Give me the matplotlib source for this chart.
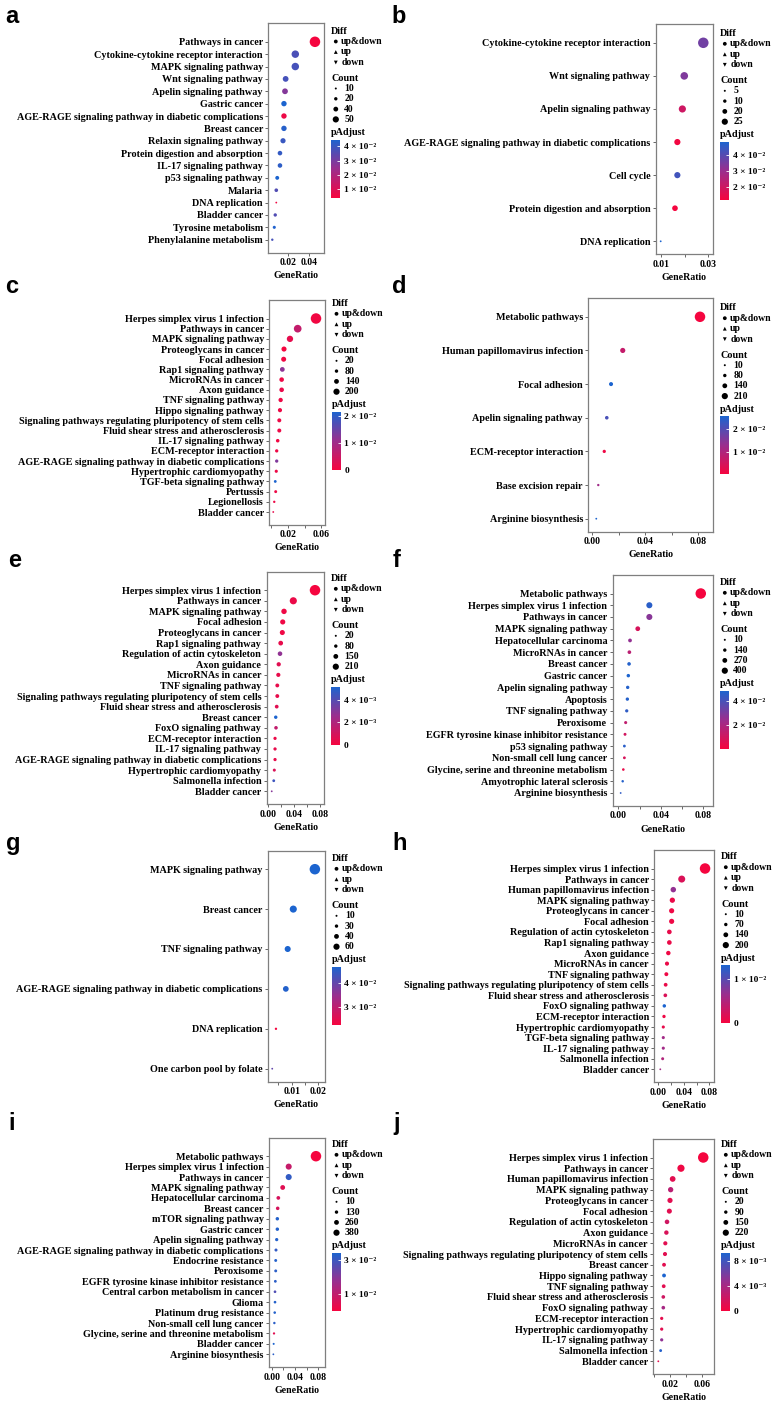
import numpy as np
import matplotlib.pyplot as plt
from matplotlib.colors import LinearSegmentedColormap, Normalize
from matplotlib.cm import ScalarMappable

W, H, DPI = 782, 1405, 100
SERIF = ["Liberation Serif", "DejaVu Serif"]
SANS = ["Liberation Sans", "DejaVu Sans"]

# ---------------- data ----------------
a_terms = ["Pathways in cancer", "Cytokine-cytokine receptor interaction", "MAPK signaling pathway",
           "Wnt signaling pathway", "Apelin signaling pathway", "Gastric cancer",
           "AGE-RAGE signaling pathway in diabetic complications", "Breast cancer",
           "Relaxin signaling pathway", "Protein digestion and absorption", "IL-17 signaling pathway",
           "p53 signaling pathway", "Malaria", "DNA replication", "Bladder cancer",
           "Tyrosine metabolism", "Phenylalanine metabolism"]
a_ratio = [0.0454, 0.0267, 0.0267, 0.0175, 0.0169, 0.0159, 0.0159, 0.0159, 0.0150, 0.0121,
           0.0121, 0.0095, 0.0086, 0.0086, 0.0076, 0.0067, 0.0048]
a_count = [50, 29, 29, 19, 19, 17, 17, 17, 16, 13, 13, 10, 9, 4, 8, 7, 5]
a_padj = [0.0041, 0.037, 0.038, 0.038, 0.028, 0.0447, 0.006, 0.043, 0.040, 0.041, 0.042,
          0.0447, 0.036, 0.005, 0.036, 0.044, 0.038]

b_terms = ["Cytokine-cytokine receptor interaction", "Wnt signaling pathway", "Apelin signaling pathway",
           "AGE-RAGE signaling pathway in diabetic complications", "Cell cycle",
           "Protein digestion and absorption", "DNA replication"]
b_ratio = [0.0279, 0.0199, 0.0191, 0.0170, 0.0170, 0.0160, 0.0100]
b_count = [25, 18, 17, 15, 15, 14, 9]
b_padj = [0.036, 0.034, 0.020, 0.0125, 0.043, 0.0119, 0.0483]

c_terms = ["Herpes simplex virus 1 infection", "Pathways in cancer", "MAPK signaling pathway",
           "Proteoglycans in cancer", "Focal adhesion", "Rap1 signaling pathway", "MicroRNAs in cancer",
           "Axon guidance", "TNF signaling pathway", "Hippo signaling pathway",
           "Signaling pathways regulating pluripotency of stem cells",
           "Fluid shear stress and atherosclerosis", "IL-17 signaling pathway", "ECM-receptor interaction",
           "AGE-RAGE signaling pathway in diabetic complications", "Hypertrophic cardiomyopathy",
           "TGF-beta signaling pathway", "Pertussis", "Legionellosis", "Bladder cancer"]
c_ratio = [0.0536, 0.0318, 0.0226, 0.0155, 0.0151, 0.0135, 0.0127, 0.0127, 0.0115, 0.0107,
           0.0099, 0.0099, 0.0080, 0.0068, 0.0068, 0.0063, 0.0051, 0.0056, 0.0039, 0.0027]
c_count = [210, 125, 89, 61, 59, 53, 50, 50, 45, 42, 39, 39, 31, 27, 27, 25, 20, 22, 15, 11]
c_padj = [0.0005, 0.006, 0.002, 0.0, 0.0005, 0.012, 0.001, 0.0015, 0.001, 0.001, 0.001, 0.001,
          0.0005, 0.001, 0.013, 0.001, 0.0215, 0.001, 0.001, 0.002]

d_terms = ["Metabolic pathways", "Human papillomavirus infection", "Focal adhesion",
           "Apelin signaling pathway", "ECM-receptor interaction", "Base excision repair",
           "Arginine biosynthesis"]
d_ratio = [0.0812, 0.0231, 0.0143, 0.0111, 0.0092, 0.0047, 0.0032]
d_count = [210, 60, 37, 29, 24, 12, 8]
d_padj = [0.0, 0.007, 0.0257, 0.021, 0.001, 0.012, 0.0257]

e_terms = ["Herpes simplex virus 1 infection", "Pathways in cancer", "MAPK signaling pathway",
           "Focal adhesion", "Proteoglycans in cancer", "Rap1 signaling pathway",
           "Regulation of actin cytoskeleton", "Axon guidance", "MicroRNAs in cancer",
           "TNF signaling pathway", "Signaling pathways regulating pluripotency of stem cells",
           "Fluid shear stress and atherosclerosis", "Breast cancer", "FoxO signaling pathway",
           "ECM-receptor interaction", "IL-17 signaling pathway",
           "AGE-RAGE signaling pathway in diabetic complications", "Hypertrophic cardiomyopathy",
           "Salmonella infection", "Bladder cancer"]
e_ratio = [0.0723, 0.0387, 0.0243, 0.0223, 0.0217, 0.0192, 0.0181, 0.0161, 0.0155, 0.0139,
           0.0139, 0.0130, 0.0115, 0.0119, 0.0104, 0.0104, 0.0104, 0.0093, 0.0084, 0.0053]
e_count = [210, 112, 71, 65, 63, 56, 53, 47, 45, 40, 40, 38, 33, 35, 30, 30, 30, 27, 24, 15]
e_padj = [0.0, 0.0003, 0.0002, 0.0002, 0.0002, 0.0004, 0.0028, 0.0006, 0.0004, 0.0004, 0.0004,
          0.0006, 0.0052, 0.0015, 0.0003, 0.0004, 0.0004, 0.0008, 0.0045, 0.003]

f_terms = ["Metabolic pathways", "Herpes simplex virus 1 infection", "Pathways in cancer",
           "MAPK signaling pathway", "Hepatocellular carcinoma", "MicroRNAs in cancer", "Breast cancer",
           "Gastric cancer", "Apelin signaling pathway", "Apoptosis", "TNF signaling pathway",
           "Peroxisome", "EGFR tyrosine kinase inhibitor resistance", "p53 signaling pathway",
           "Non-small cell lung cancer", "Glycine, serine and threonine metabolism",
           "Amyotrophic lateral sclerosis", "Arginine biosynthesis"]
f_ratio = [0.0776, 0.0292, 0.0292, 0.0183, 0.0110, 0.0104, 0.0101, 0.0094, 0.0088, 0.0085,
           0.0079, 0.0069, 0.0063, 0.0057, 0.0057, 0.0047, 0.0041, 0.0022]
f_count = [400, 151, 151, 94, 57, 54, 52, 48, 45, 44, 41, 36, 32, 29, 29, 24, 21, 11]
f_padj = [0.0006, 0.046, 0.028, 0.009, 0.026, 0.016, 0.047, 0.0486, 0.047, 0.047, 0.045, 0.015,
          0.010, 0.046, 0.009, 0.004, 0.047, 0.045]

g_terms = ["MAPK signaling pathway", "Breast cancer", "TNF signaling pathway",
           "AGE-RAGE signaling pathway in diabetic complications", "DNA replication",
           "One carbon pool by folate"]
g_ratio = [0.0187, 0.0106, 0.0085, 0.0078, 0.0041, 0.0027]
g_count = [62, 35, 28, 26, 10, 9]
g_padj = [0.0467, 0.0467, 0.0467, 0.046, 0.0228, 0.040]

h_terms = ["Herpes simplex virus 1 infection", "Pathways in cancer", "Human papillomavirus infection",
           "MAPK signaling pathway", "Proteoglycans in cancer", "Focal adhesion",
           "Regulation of actin cytoskeleton", "Rap1 signaling pathway", "Axon guidance",
           "MicroRNAs in cancer", "TNF signaling pathway",
           "Signaling pathways regulating pluripotency of stem cells",
           "Fluid shear stress and atherosclerosis", "FoxO signaling pathway", "ECM-receptor interaction",
           "Hypertrophic cardiomyopathy", "TGF-beta signaling pathway", "IL-17 signaling pathway",
           "Salmonella infection", "Bladder cancer"]
h_ratio = [0.0733, 0.0367, 0.0235, 0.0220, 0.0209, 0.0209, 0.0173, 0.0173, 0.0157, 0.0136,
           0.0126, 0.0115, 0.0110, 0.0094, 0.0089, 0.0078, 0.0078, 0.0078, 0.0068, 0.0031]
h_count = [200, 100, 64, 60, 57, 57, 47, 47, 43, 37, 34, 31, 30, 26, 24, 21, 21, 21, 19, 8]
h_padj = [0.0, 0.002, 0.007, 0.0008, 0.0005, 0.0005, 0.001, 0.0008, 0.0005, 0.0008, 0.0005,
          0.0008, 0.002, 0.0132, 0.0005, 0.001, 0.006, 0.006, 0.005, 0.006]

i_terms = ["Metabolic pathways", "Herpes simplex virus 1 infection", "Pathways in cancer",
           "MAPK signaling pathway", "Hepatocellular carcinoma", "Breast cancer", "mTOR signaling pathway",
           "Gastric cancer", "Apelin signaling pathway",
           "AGE-RAGE signaling pathway in diabetic complications", "Endocrine resistance", "Peroxisome",
           "EGFR tyrosine kinase inhibitor resistance", "Central carbon metabolism in cancer", "Glioma",
           "Platinum drug resistance", "Non-small cell lung cancer",
           "Glycine, serine and threonine metabolism", "Bladder cancer", "Arginine biosynthesis"]
i_ratio = [0.0760, 0.0292, 0.0292, 0.0189, 0.0114, 0.0103, 0.0097, 0.0097, 0.0086, 0.0074,
           0.0069, 0.0069, 0.0063, 0.0057, 0.0057, 0.0052, 0.0046, 0.0040, 0.0034, 0.0029]
i_count = [390, 150, 150, 97, 59, 53, 50, 50, 44, 38, 35, 35, 32, 29, 29, 27, 24, 21, 17, 15]
i_padj = [0.0, 0.009, 0.031, 0.004, 0.006, 0.006, 0.033, 0.033, 0.033, 0.031, 0.033, 0.032,
          0.032, 0.027, 0.033, 0.033, 0.032, 0.004, 0.034, 0.032]

j_terms = ["Herpes simplex virus 1 infection", "Pathways in cancer", "Human papillomavirus infection",
           "MAPK signaling pathway", "Proteoglycans in cancer", "Focal adhesion",
           "Regulation of actin cytoskeleton", "Axon guidance", "MicroRNAs in cancer",
           "Signaling pathways regulating pluripotency of stem cells", "Breast cancer",
           "Hippo signaling pathway", "TNF signaling pathway", "Fluid shear stress and atherosclerosis",
           "FoxO signaling pathway", "ECM-receptor interaction", "Hypertrophic cardiomyopathy",
           "IL-17 signaling pathway", "Salmonella infection", "Bladder cancer"]
j_ratio = [0.0612, 0.0336, 0.0233, 0.0208, 0.0200, 0.0192, 0.0163, 0.0155, 0.0142, 0.0138,
           0.0126, 0.0126, 0.0122, 0.0117, 0.0117, 0.0097, 0.0097, 0.0097, 0.0084, 0.0055]
j_count = [220, 121, 84, 75, 72, 69, 59, 56, 51, 50, 45, 45, 44, 42, 42, 35, 35, 35, 30, 20]
j_padj = [0.0, 0.0003, 0.001, 0.003, 0.001, 0.001, 0.002, 0.0015, 0.001, 0.001, 0.001, 0.0093,
          0.001, 0.002, 0.004, 0.0008, 0.001, 0.005, 0.009, 0.0008]

count_breaks = {"a": [10, 20, 40, 50], "b": [5, 10, 20, 25], "c": [20, 80, 140, 200],
                "d": [10, 80, 140, 210], "e": [20, 80, 150, 210], "f": [10, 140, 270, 400],
                "g": [10, 30, 40, 60], "h": [10, 70, 140, 200], "i": [10, 130, 260, 380],
                "j": [20, 90, 150, 220]}
padj_breaks = {"a": [0.01, 0.02, 0.03, 0.04], "b": [0.02, 0.03, 0.04], "c": [0, 0.01, 0.02],
               "d": [0.01, 0.02], "e": [0, 0.002, 0.004], "f": [0.02, 0.04], "g": [0.03, 0.04],
               "h": [0, 0.01], "i": [0.01, 0.03], "j": [0, 0.004, 0.008]}
padj_exp = {"a": 2, "b": 2, "c": 2, "d": 2, "e": 3, "f": 2, "g": 2, "h": 2, "i": 2, "j": 3}
diff_keys = ["up&down", "up", "down"]

# ---------------- layout (pixel boxes: left, top, right, bottom) ----------------
T08 = [0, 0.02, 0.04, 0.06, 0.08]
L08 = ["0.00", "", "0.04", "", "0.08"]
T06 = [0, 0.02, 0.04, 0.06]
L06 = ["", "0.02", "", "0.06"]
layout = {
    "a": dict(box=(268.3, 23.3, 324.3, 252.7), xlim=(0.001, 0.0543), xt=[0.02, 0.04],
              xl=["0.02", "0.04"], leg=31, tag=(5, 23.3)),
    "b": dict(box=(655.7, 24.3, 713.3, 254.3), xlim=(0.0079, 0.0321), xt=[0.01, 0.02, 0.03],
              xl=["0.01", "", "0.03"], leg=33.3, tag=(391, 23.3)),
    "c": dict(box=(269.3, 300, 325, 525), xlim=(-0.002, 0.0643), xt=T06, xl=L06, leg=303.3,
              tag=(5, 293.3)),
    "d": dict(box=(588.3, 298.3, 713.3, 531.7), xlim=(-0.0028, 0.0912), xt=T08, xl=L08, leg=307.7,
              tag=(392, 293.3)),
    "e": dict(box=(266.7, 571.7, 324.3, 804.3), xlim=(-0.0025, 0.0867), xt=T08, xl=L08, leg=578.3,
              tag=(8, 566.7)),
    "f": dict(box=(612.7, 575, 713.3, 806), xlim=(-0.0053, 0.0894), xt=T08, xl=L08, leg=582.3,
              tag=(393, 566.7)),
    "g": dict(box=(267.7, 850.7, 325, 1081.7), xlim=(0.001, 0.0225), xt=[0.005, 0.01, 0.015, 0.02],
              xl=["", "0.01", "", "0.02"], leg=858.3, tag=(6, 850)),
    "h": dict(box=(654.3, 850, 714.3, 1082.3), xlim=(-0.0063, 0.0878), xt=T08, xl=L08, leg=856.7,
              tag=(392, 850)),
    "i": dict(box=(269, 1137.7, 325, 1367.3), xlim=(-0.0046, 0.0915), xt=T08, xl=L08, leg=1144.3,
              tag=(8, 1130)),
    "j": dict(box=(653.3, 1139, 714.3, 1374.3), xlim=(-0.0007, 0.0749), xt=T06, xl=L06, leg=1144.3,
              tag=(393, 1130)),
}
data = {"a": (a_terms, a_ratio, a_count, a_padj), "b": (b_terms, b_ratio, b_count, b_padj),
        "c": (c_terms, c_ratio, c_count, c_padj), "d": (d_terms, d_ratio, d_count, d_padj),
        "e": (e_terms, e_ratio, e_count, e_padj), "f": (f_terms, f_ratio, f_count, f_padj),
        "g": (g_terms, g_ratio, g_count, g_padj), "h": (h_terms, h_ratio, h_count, h_padj),
        "i": (i_terms, i_ratio, i_count, i_padj), "j": (j_terms, j_ratio, j_count, j_padj)}

PAD_T, PAD_B = 18.5, 13.0
LEG_DIAM = [2.0, 3.4, 4.8, 6.2]
padj_cmap = LinearSegmentedColormap.from_list("padj", ["#F5053F", "#9A2E8E", "#1C64CF"])
SUP = {"2": "\u00b2", "3": "\u00b3"}


def frac_rect(l, t, r, b):
    return [l / W, 1 - b / H, (r - l) / W, (b - t) / H]


def dot_area(counts, dmin=1.8, dmax=10.5):
    c = np.asarray(counts, float)
    f = (c - c.min()) / (c.max() - c.min())
    d = dmin + f ** 0.7 * (dmax - dmin)
    return (d * 72 / DPI) ** 2


def sci_label(v, e):
    if v == 0:
        return "0"
    m = int(round(v * 10 ** e))
    return f"{m} \u00d7 10\u207b{SUP[str(e)]}"


def bold(size):
    return dict(family=SERIF, weight="bold", fontsize=size)


fig = plt.figure(figsize=(W / DPI, H / DPI), dpi=DPI)
ov = fig.add_axes([0, 0, 1, 1])
ov.set_xlim(0, W)
ov.set_ylim(H, 0)
ov.axis("off")


def draw_panel(key):
    terms, ratio, count, padj = data[key]
    lay = layout[key]
    l, t, r, b = lay["box"]
    ax = fig.add_axes(frac_rect(l, t, r, b))
    n = len(terms)
    ys = np.arange(n)[::-1]
    step = (b - t - PAD_T - PAD_B) / (n - 1)
    ax.set_ylim(-PAD_B / step, n - 1 + PAD_T / step)
    ax.set_xlim(*lay["xlim"])
    norm = Normalize(min(padj), max(padj))
    ax.scatter(ratio, ys, s=dot_area(count), c=padj, cmap=padj_cmap, norm=norm,
               edgecolors="none", zorder=3)
    ax.set_yticks(ys, terms, **bold(7.3))
    ax.set_xticks(lay["xt"], lay["xl"], **bold(7))
    ax.tick_params(axis="both", length=2.4, width=0.6, color="#4d4d4d", pad=1.5)
    for sp in ax.spines.values():
        sp.set_color("#7f7f7f")
        sp.set_linewidth(0.9)

    ov.text((l + r) / 2, b + 23, "GeneRatio", ha="center", va="center", **bold(7.1))
    ov.text(lay["tag"][0], lay["tag"][1], key, ha="left", va="baseline", fontsize=17,
            fontweight="bold", family=SANS)

    # legends
    y0 = lay["leg"]
    ov.text(r + 7, y0, "Diff", ha="left", va="center", **bold(7.3))
    for k, (mk, lab) in enumerate(zip(["o", "^", "v"], diff_keys)):
        yy = y0 + 10.5 * (k + 1)
        ov.scatter([r + 11.5], [yy], marker=mk, s=(3.8 * 0.72) ** 2, c="black", edgecolors="none")
        ov.text(r + 17, yy, lab, ha="left", va="center", **bold(7))
    yc = y0 + 47.5
    ov.text(r + 7, yc, "Count", ha="left", va="center", **bold(7.3))
    for k, (cnt, dd) in enumerate(zip(count_breaks[key], LEG_DIAM)):
        yy = yc + 10 + 10.3 * k
        ov.scatter([r + 11.5], [yy], s=(dd * 0.72) ** 2, c="black", edgecolors="none")
        ov.text(r + 20, yy, str(cnt), ha="left", va="center", **bold(7))
    ov.text(r + 7, y0 + 101.5, "pAdjust", ha="left", va="center", **bold(7.3))
    cax = fig.add_axes(frac_rect(r + 7, y0 + 108.5, r + 16, y0 + 166.5))
    cb = fig.colorbar(ScalarMappable(norm=norm, cmap=padj_cmap), cax=cax)
    cb.outline.set_visible(False)
    ticks = padj_breaks[key]
    cb.set_ticks(ticks, labels=[sci_label(v, padj_exp[key]) for v in ticks])
    cax.tick_params(length=2, width=0.6, color="white", direction="in", pad=2.5)
    for tl in cax.get_yticklabels():
        tl.set_family(SERIF)
        tl.set_fontweight("bold")
        tl.set_fontsize(6.8)


for key in "abcdefghij":
    draw_panel(key)

fig.savefig("out.png", dpi=DPI)
